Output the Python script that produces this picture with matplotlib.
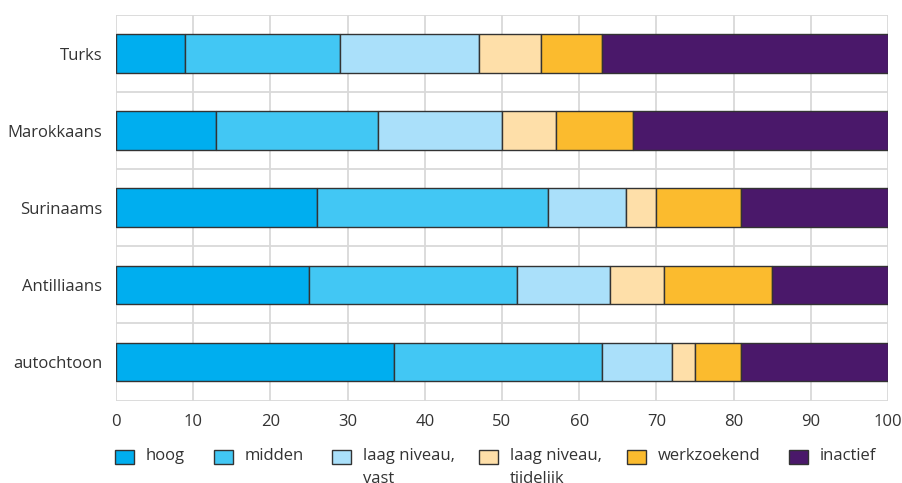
import matplotlib
matplotlib.use("Agg")
import matplotlib.pyplot as plt
from matplotlib.patches import Rectangle
import numpy as np

plt.rcParams['font.family'] = ['Open Sans', 'DejaVu Sans']

categories = ["Turks", "Marokkaans", "Surinaams", "Antilliaans", "autochtoon"]
series_labels = ["hoog", "midden", "laag niveau,\nvast", "laag niveau,\ntijdelijk", "werkzoekend", "inactief"]
hoog = [9, 13, 26, 25, 36]
midden = [20, 21, 30, 27, 27]
laag_vast = [18, 16, 10, 12, 9]
laag_tijdelijk = [8, 7, 4, 7, 3]
werkzoekend = [8, 10, 11, 14, 6]
inactief = [37, 33, 19, 15, 19]
series = [hoog, midden, laag_vast, laag_tijdelijk, werkzoekend, inactief]
colors = ["#00aeef", "#42c7f4", "#aae0fa", "#fedfa9", "#fbbb2e", "#4a186a"]
xticks = [0, 10, 20, 30, 40, 50, 60, 70, 80, 90, 100]

W, H = 902, 483
fig = plt.figure(figsize=(W / 100, H / 100), dpi=100)
ax = fig.add_axes([116 / W, 1 - 400.5 / H, (888 - 116) / W, (400.5 - 15) / H])

text_color = "#333333"
grid_color = "#d9d9d9"

y = np.arange(len(categories))
left = np.zeros(len(categories))
for vals, col in zip(series, colors):
    ax.barh(y, vals, left=left, height=0.5, color=col, edgecolor="#333333",
            linewidth=1.0, zorder=3)
    left += np.array(vals)

ax.set_xlim(0, 100)
ax.set_ylim(len(categories) - 0.5, -0.5)
ax.set_xticks(xticks)
ax.set_xticklabels([str(t) for t in xticks])
ax.set_yticks(y)
ax.set_yticklabels(categories)

for t in xticks:
    ax.axvline(t, color=grid_color, linewidth=1.3, zorder=1)
for b in np.arange(-0.5, len(categories), 1.0):
    ax.axhline(b, color=grid_color, linewidth=1.3, zorder=1)

for s in ax.spines.values():
    s.set_visible(False)
ax.tick_params(axis='both', length=0, colors=text_color, labelsize=12)
ax.tick_params(axis='y', pad=10)
ax.tick_params(axis='x', pad=10)

# legend
leg_x = [115, 214, 332, 479, 627, 789]
leg_y = 457
for lx, lab, col in zip(leg_x, series_labels, colors):
    fig.patches.append(Rectangle((lx / W, 1 - (leg_y + 7) / H), 19 / W, 14 / H,
                                 transform=fig.transFigure, facecolor=col,
                                 edgecolor="#333333", linewidth=1.0))
    fig.text((lx + 31) / W, 1 - (leg_y - 9) / H, lab, ha='left', va='top',
             fontsize=12, color=text_color, linespacing=1.6)

fig.savefig("out.png", dpi=100)
